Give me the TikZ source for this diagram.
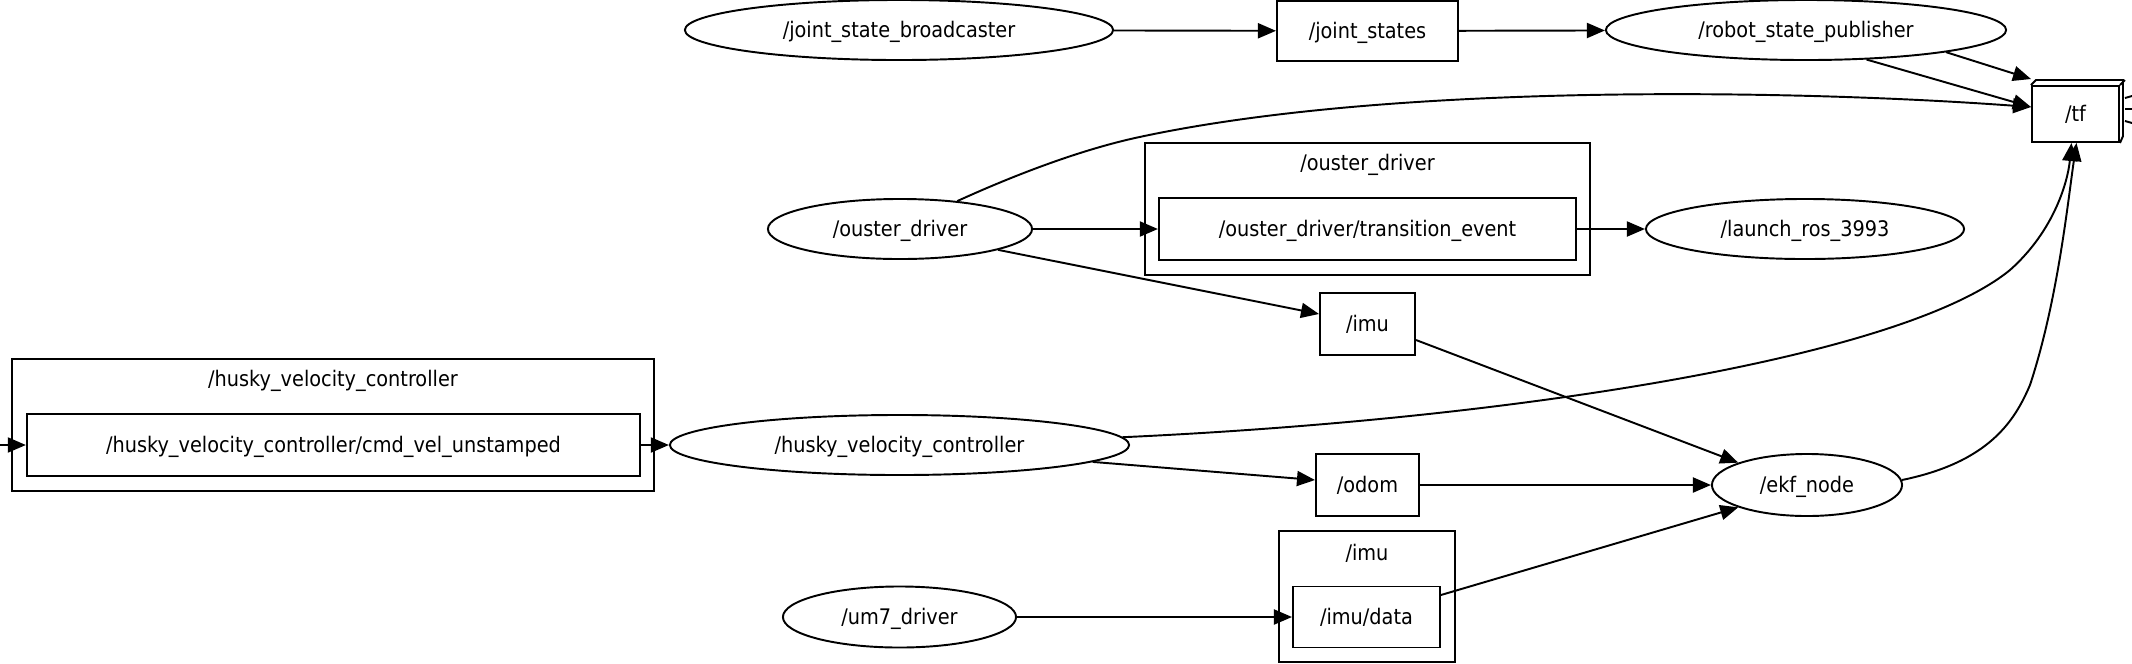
\documentclass[tikz,border=0pt]{standalone}
\usepackage{fontspec}
\setmainfont{DejaVu Sans Condensed}
\usetikzlibrary{arrows.meta,shapes.geometric}

\begin{document}
\begin{tikzpicture}[x=0.01cm, y=-0.01cm, line width=0.55pt,
		font=\fontsize{6.1}{7}\selectfont,
		every node/.style={text height=5pt, text depth=0.74pt},
		rosnode/.style={draw, ellipse, inner sep=0pt},
		topic/.style={draw, rectangle, inner sep=0pt},
		group/.style={draw, rectangle, inner sep=0pt},
		edge/.style={-{Triangle[length=1.8mm, width=1.5mm]}}]
		%%%%% START %%%%%
		\useasboundingbox (0, 0) rectangle (2132, 663);
		
		% top row
		\node[rosnode, minimum width=4.28cm, minimum height=0.6cm] (jsb) at (899, 30) {/joint\_state\_broadcaster};
		\node[topic, minimum width=1.81cm, minimum height=0.6cm] (js) at (1367.5, 31) {/joint\_states};
		\node[rosnode, minimum width=4cm, minimum height=0.6cm] (rsp) at (1806, 30) {/robot\_state\_publisher};
		
		\node[topic, minimum width=0.87cm, minimum height=0.56cm] (tf) at (2075.5, 114) {/tf};
		\draw (tf.north west) -- ++(5, -5) -- ++(87, 0) -- ++(0, 56) -- (tf.south east);
		\draw (tf.north east) -- ++(5, -5);
		\coordinate (tfa) at (2132, 96);
		\coordinate (tfb) at (2132, 109);
		\coordinate (tfc) at (2132, 123);
		\draw ([shift={(5, -16)}]tf.east) -- (tfa);
		\draw ([shift={(5, -5)}]tf.east) -- (tfb);
		\draw ([shift={(5, 7)}]tf.east) -- (tfc);
		
		% ouster
		\node[group, minimum width=4.45cm, minimum height=1.32cm] (odgroup) at (1367.5, 209) {};
		\node (odlabel) at (1367.5, 163) {/ouster\_driver};
		\node[topic, minimum width=4.17cm, minimum height=0.62cm] (odte) at (1367.5, 229) {/ouster\_driver/transition\_event};
		\node[rosnode, minimum width=2.64cm, minimum height=0.6cm] (od) at (900, 229) {/ouster\_driver};
		\node[rosnode, minimum width=3.18cm, minimum height=0.6cm] (launch) at (1805, 229) {/launch\_ros\_3993};
		\node[topic, minimum width=0.95cm, minimum height=0.62cm] (imu) at (1367.5, 324) {/imu};
		
		% husky
		\node[group, minimum width=6.42cm, minimum height=1.32cm] (hvgroup) at (333, 425) {};
		\node (hvlabel) at (333, 379) {/husky\_velocity\_controller};
		\node[topic, minimum width=6.13cm, minimum height=0.62cm] (hvcmd) at (333.5, 445) {/husky\_velocity\_controller/cmd\_vel\_unstamped};
		\node[rosnode, minimum width=4.59cm, minimum height=0.6cm] (hv) at (899.5, 445) {/husky\_velocity\_controller};
		\node[topic, minimum width=1.03cm, minimum height=0.62cm] (odom) at (1367.5, 485) {/odom};
		\node[rosnode, minimum width=1.9cm, minimum height=0.62cm] (ekf) at (1807, 485) {/ekf\_node};
		\coordinate (entry) at (0, 445);
		
		% imu
		\node[group, minimum width=1.76cm, minimum height=1.31cm] (imugroup) at (1367, 596.5) {};
		\node (imulabel) at (1367, 553) {/imu};
		\node[topic, minimum width=1.47cm, minimum height=0.61cm] (imudata) at (1366.5, 617) {/imu/data};
		\node[rosnode, minimum width=2.33cm, minimum height=0.61cm] (um7) at (899.5, 617) {/um7\_driver};
		
		% edges
		\draw[edge] (jsb) -- (js);
		\draw[edge] (js) -- (rsp);
		\draw[edge] (rsp.-9) -- ([yshift=0.06cm]tf.north west);
		\draw[edge] (rsp.-26) -- ([yshift=0.07cm]tf.west);
		\draw[edge] (od.26) .. controls (1030, 168) and (1090, 148) .. (1135, 138) .. controls (1390, 82) and (1800, 90) .. ([yshift=0.07cm]tf.west);
		\draw[edge] (od) -- (odte);
		\draw[edge] (odte) -- (launch);
		\draw[edge] (od.-12) -- ([yshift=0.1cm]imu.west);
		\draw[edge] ([yshift=-0.16cm]imu.east) -- (ekf.162);
		
		\draw[edge] (entry) -- (hvcmd);
		\draw[edge] (hvcmd) -- (hv);
		\draw[edge] (hv.2) .. controls (1500, 420) and (1900, 360) .. (2010, 270) .. controls (2055, 230) and (2068, 180) .. ([xshift=-0.04cm]tf.south);
		\draw[edge] (hv.-5) -- ([yshift=0.05cm]odom.west);
		\draw[edge] (odom) -- (ekf);
		\draw[edge] (um7) -- (imudata);
		\draw[edge] ([yshift=0.22cm]imudata.east) -- (ekf.-162);
		\draw[edge] (ekf.3) .. controls (1990, 462) and (2015, 420) .. (2030, 385) .. controls (2058, 300) and (2068, 200) .. ([xshift=0.01cm]tf.south);
		
		%%%%% END %%%%%
	\end{tikzpicture}
\end{document}
